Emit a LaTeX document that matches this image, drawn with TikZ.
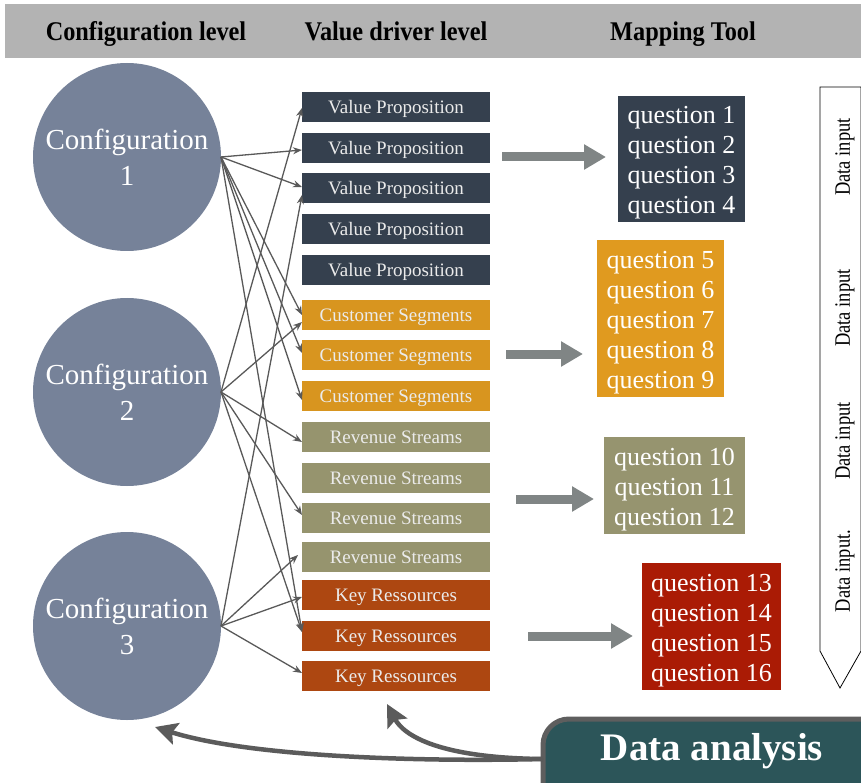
\documentclass[tikz,border=0pt]{standalone}
\usepackage{fontspec}
\setmainfont{Liberation Serif}
\newfontfamily\narrowserif[FakeStretch=0.9]{Liberation Serif}
\newfontfamily\sideserif[FakeStretch=0.84]{Liberation Serif}
\usetikzlibrary{arrows.meta,calc}

\definecolor{hdrgray}{HTML}{B3B3B3}
\definecolor{cfgblue}{HTML}{768299}
\definecolor{vpcol}{HTML}{35404E}
\definecolor{cscol}{HTML}{D8951F}
\definecolor{rscol}{HTML}{96946E}
\definecolor{krcol}{HTML}{AD4711}
\definecolor{qacol}{HTML}{35404E}
\definecolor{qbcol}{HTML}{E09A1F}
\definecolor{qccol}{HTML}{96946F}
\definecolor{qdcol}{HTML}{AA1B05}
\definecolor{linkgray}{HTML}{595959}
\definecolor{flowgray}{HTML}{808585}
\definecolor{curvegray}{HTML}{5B5B5B}
\definecolor{tealbox}{HTML}{2C5559}
\definecolor{tealedge}{HTML}{5E5E5E}

\begin{document}
\begin{tikzpicture}[x=1pt,y=-1pt,
  every node/.style={inner sep=0pt, outer sep=0pt},
  hdr/.style={anchor=base, font=\narrowserif\bfseries\fontsize{27}{27}\selectfont},
  cfg/.style={circle, fill=cfgblue, minimum size=188pt, text=white,
    align=center, font=\fontsize{29}{36}\selectfont},
  vd/.style={minimum width=188pt, minimum height=30pt, text=white!92!black,
    text height=13pt, text depth=0pt, font=\fontsize{19}{19}\selectfont},
  qbox/.style={minimum width=#1},
  qtext/.style={text=white, align=center, font=\fontsize{26}{30}\selectfont},
  link/.style={draw=linkgray, line width=1.3pt, -{Stealth[length=9pt,width=7pt]}},
  flow/.style={draw=flowgray, line width=9pt, -{Triangle[length=22pt,width=24pt]}},
  back/.style={draw=curvegray, line width=4.5pt, -{Stealth[length=22pt,width=22pt,inset=4pt]}},
  side/.style={rotate=90, font=\sideserif\fontsize{22}{22}\selectfont}
]
\useasboundingbox (0,0) rectangle (861,783);

% header band
\fill[hdrgray] (5,4) rectangle (861,58);
\node[hdr] (h1) at (146,41) {Configuration level};
\node[hdr] (h2) at (396,41) {Value driver level};
\node[hdr] (h3) at (683,41) {Mapping Tool};

% configurations
\node[cfg] (c1) at (127,157) {Configuration\\1};
\node[cfg] (c2) at (127,392) {Configuration\\2};
\node[cfg] (c3) at (127,626) {Configuration\\3};

% value drivers
\node[vd, fill=vpcol] (vp1) at (396,107) {Value Proposition};
\node[vd, fill=vpcol] (vp2) at (396,148) {Value Proposition};
\node[vd, fill=vpcol] (vp3) at (396,188) {Value Proposition};
\node[vd, fill=vpcol] (vp4) at (396,229) {Value Proposition};
\node[vd, fill=vpcol] (vp5) at (396,270) {Value Proposition};
\node[vd, fill=cscol] (cs1) at (396,315) {Customer Segments};
\node[vd, fill=cscol] (cs2) at (396,355) {Customer Segments};
\node[vd, fill=cscol] (cs3) at (396,396) {Customer Segments};
\node[vd, fill=rscol] (rs1) at (396,437) {Revenue Streams};
\node[vd, fill=rscol] (rs2) at (396,478) {Revenue Streams};
\node[vd, fill=rscol] (rs3) at (396,518) {Revenue Streams};
\node[vd, fill=rscol] (rs4) at (396,557) {Revenue Streams};
\node[vd, fill=krcol] (kr1) at (396,595) {Key Ressources};
\node[vd, fill=krcol] (kr2) at (396,636) {Key Ressources};
\node[vd, fill=krcol] (kr3) at (396,676) {Key Ressources};

% links configuration -> value driver
\draw[link] (c1.east) -- ([yshift=-2pt]vp2.west);
\draw[link] (c1.east) -- ([yshift=1pt]vp3.west);
\draw[link] (c1.east) -- ([yshift=0pt]cs1.west);
\draw[link] (c1.east) -- ([yshift=2pt]cs2.west);
\draw[link] (c1.east) -- ([yshift=-4pt]cs3.west);
\draw[link] (c1.east) -- ([yshift=4pt]kr2.west);
\draw[link] (c2.east) -- ([yshift=-1pt]vp1.west);
\draw[link] (c2.east) -- ([yshift=-7pt]cs1.west);
\draw[link] (c2.east) -- ([yshift=-5pt]rs1.west);
\draw[link] (c2.east) -- ([yshift=3pt]rs3.west);
\draw[link] (c2.east) -- ([yshift=4pt]kr2.west);
\draw[link] (c3.east) -- ([yshift=-7pt]vp3.west);
\draw[link] (c3.east) -- ([xshift=-4pt,yshift=2pt]rs4.west);
\draw[link] (c3.east) -- ([yshift=-2pt]kr1.west);
\draw[link] (c3.east) -- ([yshift=3pt]kr3.west);

% question groups: coloured panel plus its list of questions
\node[fill=qacol, minimum width=127pt, minimum height=126pt] (qa) at (681.5,159) {};
\node[qtext] (qat) at ([yshift=-4pt]qa.center) {question 1\\question 2\\question 3\\question 4};
\node[fill=qbcol, minimum width=127pt, minimum height=157pt] (qb) at (660.5,318.5) {};
\node[qtext] (qbt) at ([yshift=-4pt]qb.center) {question 5\\question 6\\question 7\\question 8\\question 9};
\node[fill=qccol, minimum width=141pt, minimum height=97pt] (qc) at (674.5,485.5) {};
\node[qtext] (qct) at ([yshift=-4pt]qc.center) {question 10\\question 11\\question 12};
\node[fill=qdcol, minimum width=139pt, minimum height=127pt] (qd) at (711.5,626.5) {};
\node[qtext] (qdt) at ([yshift=-4pt]qd.center) {question 13\\question 14\\question 15\\question 16};

% block arrows towards the mapping tool
\coordinate (fa1) at (502,157);  \coordinate (fa2) at (606,157);
\coordinate (fb1) at (506,354);  \coordinate (fb2) at (583,354);
\coordinate (fc1) at (516,499);  \coordinate (fc2) at (594,499);
\coordinate (fd1) at (528,636);  \coordinate (fd2) at (633,636);
\draw[flow] (fa1) -- (fa2);
\draw[flow] (fb1) -- (fb2);
\draw[flow] (fc1) -- (fc2);
\draw[flow] (fd1) -- (fd2);

% data input pointer
\draw[line width=0.8pt, fill=white] (820,87) -- (861,87) -- (861,651) -- (840,688)
  -- (820,651) -- cycle;
\node[side] (d1) at (845,157) {Data input};
\node[side] (d2) at (845,308) {Data input};
\node[side] (d3) at (845,441) {Data input};
\node[side] (d4) at (845,571) {Data input.};

% data analysis and feedback arrows
\draw[draw=tealedge, line width=5pt, fill=tealbox, rounded corners=26pt]
  (543,719) rectangle (910,820);
\node[text=white, font=\bfseries\fontsize{39}{39}\selectfont] (da) at (712,751) {Data analysis};
\coordinate (dstart) at (543,759);
\coordinate (tcfg) at (155,727);
\coordinate (tvd) at (387,704);
\draw[back] (dstart) .. controls (420,762) and (250,757) .. (tcfg);
\draw[back] (dstart) .. controls (440,758) and (404,736) .. (tvd);
\end{tikzpicture}
\end{document}
